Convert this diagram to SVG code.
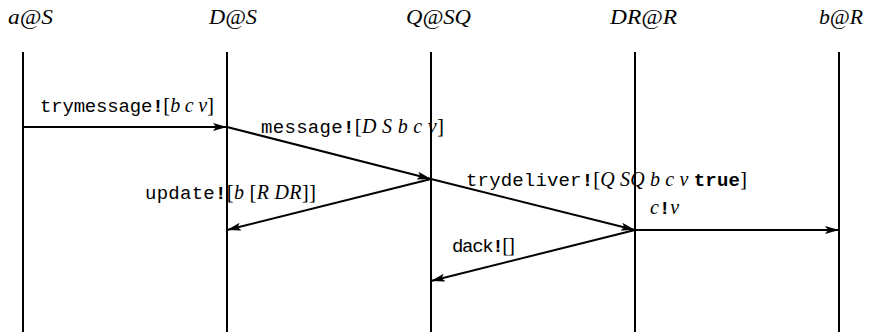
<svg xmlns="http://www.w3.org/2000/svg" width="874" height="332" viewBox="0 0 874 332">
<style>
.life{stroke:#000;stroke-width:2;fill:none}
.msg{stroke:#000;stroke-width:2;fill:none;marker-end:url(#ah)}
.hd{font-family:"Liberation Serif",serif;font-style:italic;font-size:20px;fill:#000}
.lb{font-family:"Liberation Mono",monospace;font-size:19px;fill:#000}
.b{font-weight:bold}
.m{font-family:"Liberation Serif",serif;font-style:italic;font-size:20px}
.u{font-family:"Liberation Serif",serif;font-style:normal;font-size:21px}
</style>
<defs>
<marker id="ah" viewBox="0 0 14 8" refX="14" refY="4" markerWidth="14" markerHeight="8" markerUnits="userSpaceOnUse" orient="auto">
<path d="M0,0 L14,4 L0,8 L3,4 Z" fill="#000"/>
</marker>
</defs>
<rect width="874" height="332" fill="#fff"/>
<g id="node-aS"><text class="hd" x="8" y="24" textLength="45" lengthAdjust="spacingAndGlyphs">a@S</text><line class="life" x1="23" y1="52" x2="23" y2="332"/></g>
<g id="node-DS"><text class="hd" x="209" y="24" textLength="48" lengthAdjust="spacingAndGlyphs">D@S</text><line class="life" x1="227" y1="52" x2="227" y2="332"/></g>
<g id="node-QSQ"><text class="hd" x="406" y="24" textLength="65" lengthAdjust="spacingAndGlyphs">Q@SQ</text><line class="life" x1="431" y1="52" x2="431" y2="332"/></g>
<g id="node-DRR"><text class="hd" x="610" y="24" textLength="67" lengthAdjust="spacingAndGlyphs">DR@R</text><line class="life" x1="635" y1="52" x2="635" y2="332"/></g>
<g id="node-bR"><text class="hd" x="819" y="24" textLength="44" lengthAdjust="spacingAndGlyphs">b@R</text><line class="life" x1="839" y1="52" x2="839" y2="332"/></g>
<g id="connectors">
<line class="msg" x1="23" y1="127" x2="227" y2="127"/>
<line class="msg" x1="227" y1="127" x2="431" y2="179"/>
<line class="msg" x1="431" y1="179" x2="227" y2="230"/>
<line class="msg" x1="431" y1="179" x2="635" y2="230"/>
<line class="msg" x1="635" y1="230" x2="839" y2="230"/>
<line class="msg" x1="635" y1="230" x2="431" y2="281"/>
</g>
<g id="labels">
<text class="lb" x="40" y="112" textLength="174" lengthAdjust="spacing">trymessage<tspan class="b">!</tspan><tspan class="u">[</tspan><tspan class="m">b c v</tspan><tspan class="u">]</tspan></text>
<text class="lb" x="261" y="133" textLength="183" lengthAdjust="spacing">message<tspan class="b">!</tspan><tspan class="u">[</tspan><tspan class="m">D S b c v</tspan><tspan class="u">]</tspan></text>
<text class="lb" x="145" y="199" textLength="171" lengthAdjust="spacing">update<tspan class="b">!</tspan><tspan class="u">[</tspan><tspan class="m">b </tspan><tspan class="u">[</tspan><tspan class="m">R DR</tspan><tspan class="u">]]</tspan></text>
<text class="lb" x="466" y="186" textLength="281" lengthAdjust="spacing">trydeliver<tspan class="b">!</tspan><tspan class="u">[</tspan><tspan class="m">Q SQ b c v </tspan><tspan class="b">true</tspan><tspan class="u">]</tspan></text>
<text class="lb" x="650" y="214"><tspan class="m">c</tspan><tspan class="b">!</tspan><tspan class="m">v</tspan></text>
<text class="lb" x="452" y="252" textLength="63" lengthAdjust="spacing">dack<tspan class="b">!</tspan><tspan class="u">[]</tspan></text>
</g>
</svg>
